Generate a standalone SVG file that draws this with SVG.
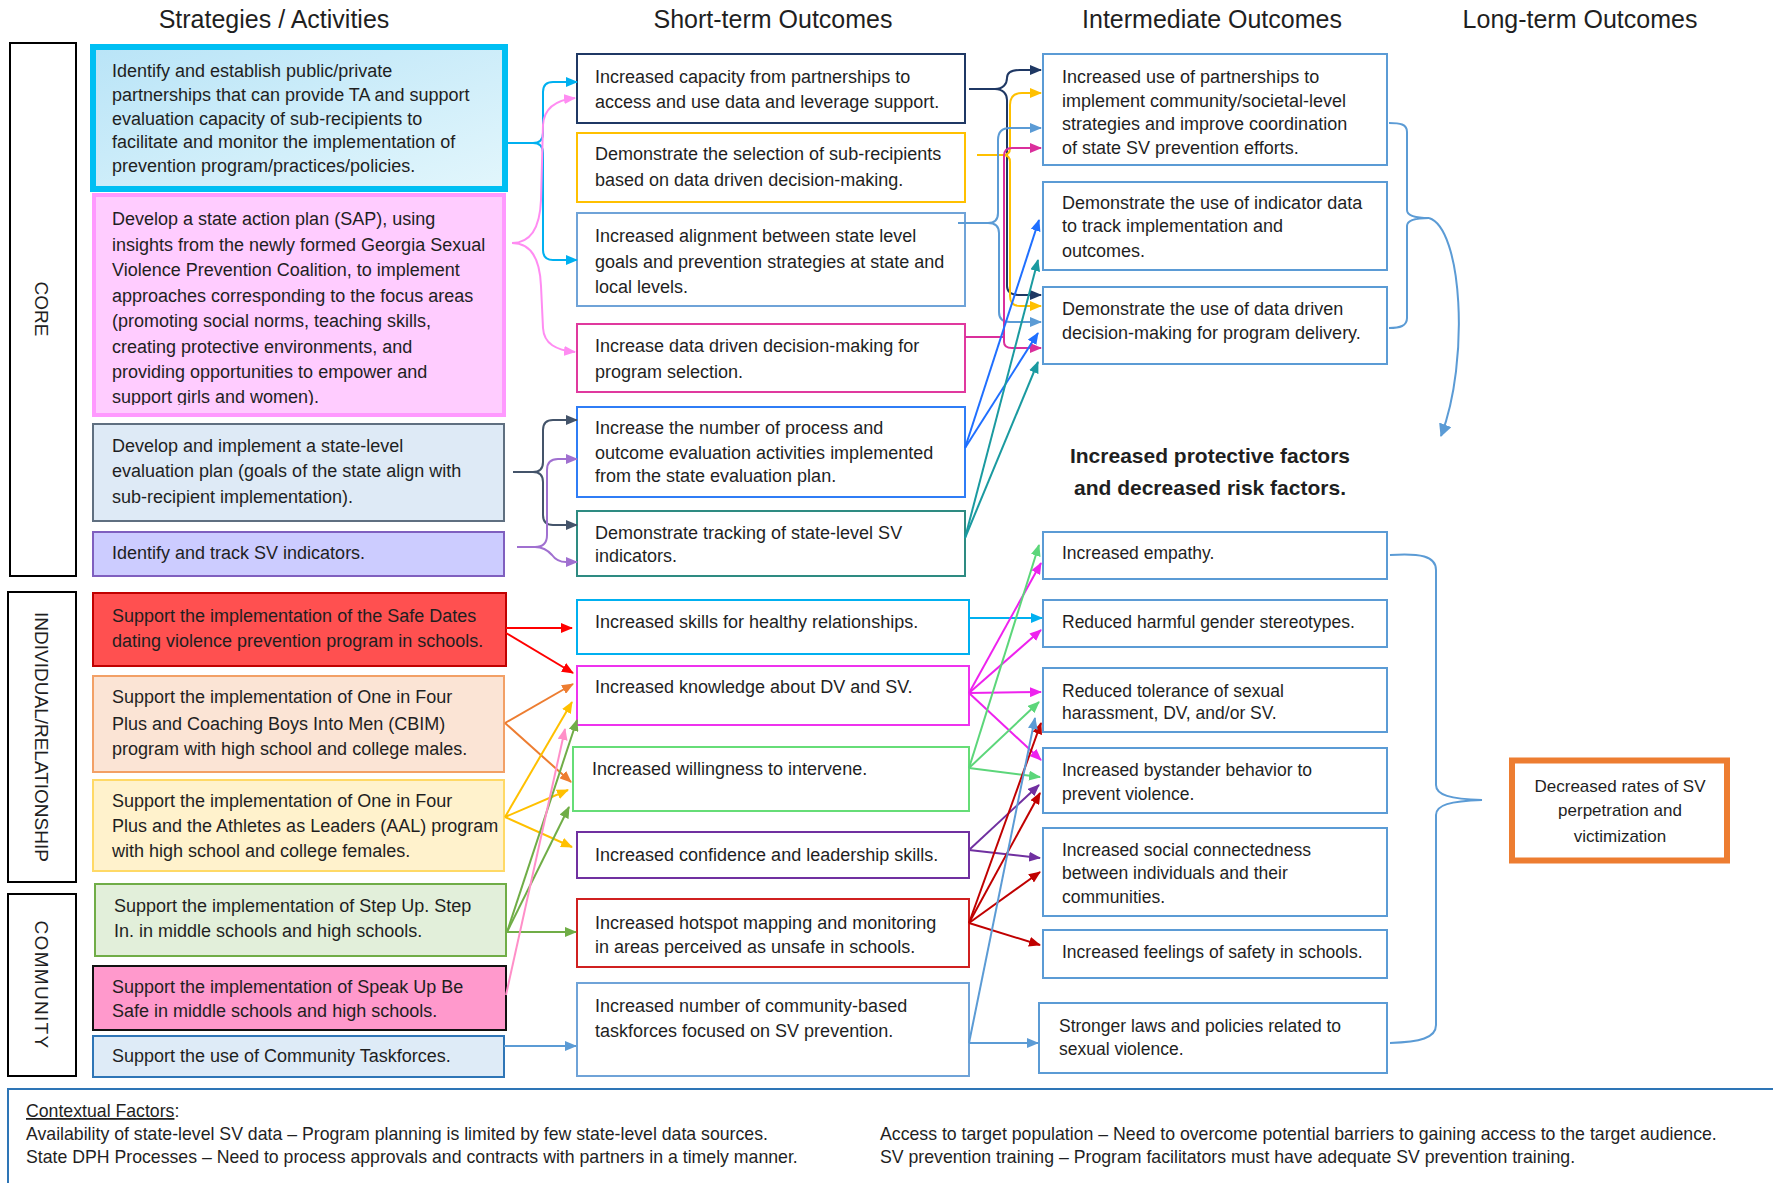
<svg xmlns="http://www.w3.org/2000/svg" width="1773" height="1183" viewBox="0 0 1773 1183">
<defs>
<style>
text{font-family:"Liberation Sans",Arial,sans-serif;fill:#1f1f1f}
.h{font-size:25px}
.b{font-size:18px}
.m{font-size:17.5px}
.v{font-size:19px}
.ctx{font-size:17.7px}
.lab{fill:#fff;stroke:#000;stroke-width:2}
.c{fill:none;stroke-width:2}
.ib{fill:#fff;stroke:#5B9BD5;stroke-width:2}
.sb{fill:#fff;stroke-width:2}
.st{stroke-width:2}
</style>
<linearGradient id="g1" x1="0" y1="0" x2="1" y2="1">
<stop offset="0" stop-color="#B9E4F7"/><stop offset="1" stop-color="#E2F6FC"/>
</linearGradient>
<clipPath id="clip2"><rect x="90" y="190" width="420" height="215"/></clipPath>
<marker id="a-cy" viewBox="0 0 12 10" refX="11" refY="5" markerWidth="12" markerHeight="10" markerUnits="userSpaceOnUse" orient="auto"><path d="M0,0L12,5L0,10z" fill="#00B0F0"/></marker>
<marker id="a-pl" viewBox="0 0 12 10" refX="11" refY="5" markerWidth="12" markerHeight="10" markerUnits="userSpaceOnUse" orient="auto"><path d="M0,0L12,5L0,10z" fill="#FF8CF2"/></marker>
<marker id="a-sl" viewBox="0 0 12 10" refX="11" refY="5" markerWidth="12" markerHeight="10" markerUnits="userSpaceOnUse" orient="auto"><path d="M0,0L12,5L0,10z" fill="#44546A"/></marker>
<marker id="a-pu" viewBox="0 0 12 10" refX="11" refY="5" markerWidth="12" markerHeight="10" markerUnits="userSpaceOnUse" orient="auto"><path d="M0,0L12,5L0,10z" fill="#A070D0"/></marker>
<marker id="a-rd" viewBox="0 0 12 10" refX="11" refY="5" markerWidth="12" markerHeight="10" markerUnits="userSpaceOnUse" orient="auto"><path d="M0,0L12,5L0,10z" fill="#FF0000"/></marker>
<marker id="a-or" viewBox="0 0 12 10" refX="11" refY="5" markerWidth="12" markerHeight="10" markerUnits="userSpaceOnUse" orient="auto"><path d="M0,0L12,5L0,10z" fill="#ED7D31"/></marker>
<marker id="a-go" viewBox="0 0 12 10" refX="11" refY="5" markerWidth="12" markerHeight="10" markerUnits="userSpaceOnUse" orient="auto"><path d="M0,0L12,5L0,10z" fill="#FFC000"/></marker>
<marker id="a-gr" viewBox="0 0 12 10" refX="11" refY="5" markerWidth="12" markerHeight="10" markerUnits="userSpaceOnUse" orient="auto"><path d="M0,0L12,5L0,10z" fill="#70AD47"/></marker>
<marker id="a-pk" viewBox="0 0 12 10" refX="11" refY="5" markerWidth="12" markerHeight="10" markerUnits="userSpaceOnUse" orient="auto"><path d="M0,0L12,5L0,10z" fill="#FF8FC8"/></marker>
<marker id="a-lb" viewBox="0 0 12 10" refX="11" refY="5" markerWidth="12" markerHeight="10" markerUnits="userSpaceOnUse" orient="auto"><path d="M0,0L12,5L0,10z" fill="#5B9BD5"/></marker>
<marker id="a-nv" viewBox="0 0 12 10" refX="11" refY="5" markerWidth="12" markerHeight="10" markerUnits="userSpaceOnUse" orient="auto"><path d="M0,0L12,5L0,10z" fill="#1F3864"/></marker>
<marker id="a-ms" viewBox="0 0 12 10" refX="11" refY="5" markerWidth="12" markerHeight="10" markerUnits="userSpaceOnUse" orient="auto"><path d="M0,0L12,5L0,10z" fill="#DA2F9C"/></marker>
<marker id="a-bb" viewBox="0 0 12 10" refX="11" refY="5" markerWidth="12" markerHeight="10" markerUnits="userSpaceOnUse" orient="auto"><path d="M0,0L12,5L0,10z" fill="#1F6FFF"/></marker>
<marker id="a-tl" viewBox="0 0 12 10" refX="11" refY="5" markerWidth="12" markerHeight="10" markerUnits="userSpaceOnUse" orient="auto"><path d="M0,0L12,5L0,10z" fill="#1A9AA0"/></marker>
<marker id="a-mg" viewBox="0 0 12 10" refX="11" refY="5" markerWidth="12" markerHeight="10" markerUnits="userSpaceOnUse" orient="auto"><path d="M0,0L12,5L0,10z" fill="#EE22EE"/></marker>
<marker id="a-lg" viewBox="0 0 12 10" refX="11" refY="5" markerWidth="12" markerHeight="10" markerUnits="userSpaceOnUse" orient="auto"><path d="M0,0L12,5L0,10z" fill="#5CD67A"/></marker>
<marker id="a-pp" viewBox="0 0 12 10" refX="11" refY="5" markerWidth="12" markerHeight="10" markerUnits="userSpaceOnUse" orient="auto"><path d="M0,0L12,5L0,10z" fill="#7030A0"/></marker>
<marker id="a-dr" viewBox="0 0 12 10" refX="11" refY="5" markerWidth="12" markerHeight="10" markerUnits="userSpaceOnUse" orient="auto"><path d="M0,0L12,5L0,10z" fill="#C00000"/></marker>
<marker id="a-big" viewBox="0 0 12 12" refX="11" refY="6" markerWidth="13" markerHeight="13" markerUnits="userSpaceOnUse" orient="auto"><path d="M0,0L12,6L0,12z" fill="#5B9BD5"/></marker>
</defs>
<rect width="1773" height="1183" fill="#fff"/>

<g id="headers">
<text class="h" x="274" y="28" text-anchor="middle">Strategies / Activities</text>
<text class="h" x="773" y="28" text-anchor="middle">Short-term Outcomes</text>
<text class="h" x="1212" y="28" text-anchor="middle">Intermediate Outcomes</text>
<text class="h" x="1580" y="28" text-anchor="middle">Long-term Outcomes</text>
</g>

<g id="label-core"><rect class="lab" x="10" y="43" width="66" height="533"/><text class="v" transform="translate(42,309) rotate(90)" text-anchor="middle" dy="0.35em">CORE</text></g>
<g id="label-individual"><rect class="lab" x="8" y="592" width="68" height="290"/><text class="v" font-size="20.5" transform="translate(42,737) rotate(90)" text-anchor="middle" dy="0.35em">INDIVIDUAL/RELATIONSHIP</text></g>
<g id="label-community"><rect class="lab" x="8" y="894" width="68" height="182"/><text class="v" font-size="20" transform="translate(42,985) rotate(90)" text-anchor="middle" dy="0.35em" letter-spacing="1.3">COMMUNITY</text></g>

<!-- Strategies -->
<g id="st-partnerships"><rect x="93" y="47" width="412" height="142" fill="url(#g1)" stroke="#00BFF3" stroke-width="6"/>
<text class="b"><tspan x="112" y="77">Identify and establish public/private</tspan><tspan x="112" y="101">partnerships that can provide TA and support</tspan><tspan x="112" y="125">evaluation capacity of sub-recipients to</tspan><tspan x="112" y="148">facilitate and monitor the implementation of</tspan><tspan x="112" y="172">prevention program/practices/policies.</tspan></text></g>
<g id="st-sap"><rect x="94" y="195" width="410" height="220" fill="#FFCCFF" stroke="#FF99FF" stroke-width="4"/>
<text class="b" clip-path="url(#clip2)"><tspan x="112" y="225">Develop a state action plan (SAP), using</tspan><tspan x="112" y="251">insights from the newly formed Georgia Sexual</tspan><tspan x="112" y="276">Violence Prevention Coalition, to implement</tspan><tspan x="112" y="302">approaches corresponding to the focus areas</tspan><tspan x="112" y="327">(promoting social norms, teaching skills,</tspan><tspan x="112" y="353">creating protective environments, and</tspan><tspan x="112" y="378">providing opportunities to empower and</tspan><tspan x="112" y="403">support girls and women).</tspan></text></g>
<g id="st-evalplan"><rect class="st" x="93" y="424" width="411" height="97" fill="#DEEAF6" stroke="#5F6F80"/>
<text class="b"><tspan x="112" y="452">Develop and implement a state-level</tspan><tspan x="112" y="477">evaluation plan (goals of the state align with</tspan><tspan x="112" y="503">sub-recipient implementation).</tspan></text></g>
<g id="st-indicators"><rect class="st" x="93" y="532" width="411" height="44" fill="#CCCCFF" stroke="#7F5FBF"/>
<text class="b" x="112" y="559">Identify and track SV indicators.</text></g>
<g id="st-safedates"><rect class="st" x="93" y="593" width="413" height="73" fill="#FF5050" stroke="#C00000"/>
<text class="b"><tspan x="112" y="622">Support the implementation of the Safe Dates</tspan><tspan x="112" y="647">dating violence prevention program in schools.</tspan></text></g>
<g id="st-cbim"><rect class="st" x="93" y="676" width="411" height="96" fill="#FBE4D5" stroke="#F2A066"/>
<text class="b"><tspan x="112" y="703">Support the implementation of One in Four</tspan><tspan x="112" y="730">Plus and Coaching Boys Into Men (CBIM)</tspan><tspan x="112" y="755">program with high school and college males.</tspan></text></g>
<g id="st-aal"><rect class="st" x="93" y="780" width="411" height="91" fill="#FFF2CC" stroke="#FFD966"/>
<text class="b"><tspan x="112" y="807">Support the implementation of One in Four</tspan><tspan x="112" y="832">Plus and the Athletes as Leaders (AAL) program</tspan><tspan x="112" y="857">with high school and college females.</tspan></text></g>
<g id="st-stepup"><rect class="st" x="95" y="884" width="411" height="72" fill="#E2EFDA" stroke="#70AD47"/>
<text class="b"><tspan x="114" y="912">Support the implementation of Step Up. Step</tspan><tspan x="114" y="937">In. in middle schools and high schools.</tspan></text></g>
<g id="st-speakup"><rect class="st" x="93" y="966" width="413" height="64" fill="#FF99CC" stroke="#111"/>
<text class="b"><tspan x="112" y="993">Support the implementation of Speak Up Be</tspan><tspan x="112" y="1017">Safe in middle schools and high schools.</tspan></text></g>
<g id="st-taskforces"><rect class="st" x="93" y="1036" width="411" height="41" fill="#DEEBF7" stroke="#2E75B6"/>
<text class="b" x="112" y="1062">Support the use of Community Taskforces.</text></g>

<!-- Short-term -->
<g id="s1"><rect class="sb" x="577" y="54" width="388" height="69" stroke="#1F3864"/><text class="b"><tspan x="595" y="83">Increased capacity from partnerships to</tspan><tspan x="595" y="108">access and use data and leverage support.</tspan></text></g>
<g id="s2"><rect class="sb" x="577" y="133" width="388" height="69" stroke="#FFC000"/><text class="b"><tspan x="595" y="160">Demonstrate the selection of sub-recipients</tspan><tspan x="595" y="186">based on data driven decision-making.</tspan></text></g>
<g id="s3"><rect class="sb" x="577" y="213" width="388" height="93" stroke="#6FA3D8"/><text class="b"><tspan x="595" y="242">Increased alignment between state level</tspan><tspan x="595" y="268">goals and prevention strategies at state and</tspan><tspan x="595" y="293">local levels.</tspan></text></g>
<g id="s4"><rect class="sb" x="577" y="324" width="388" height="68" stroke="#E0399E"/><text class="b"><tspan x="595" y="352">Increase data driven decision-making for</tspan><tspan x="595" y="378">program selection.</tspan></text></g>
<g id="s5"><rect class="sb" x="577" y="407" width="388" height="90" stroke="#2F7DF6"/><text class="b"><tspan x="595" y="434">Increase the number of process and</tspan><tspan x="595" y="459">outcome evaluation activities implemented</tspan><tspan x="595" y="482">from the state evaluation plan.</tspan></text></g>
<g id="s6"><rect class="sb" x="577" y="511" width="388" height="65" stroke="#2E8B82"/><text class="b"><tspan x="595" y="539">Demonstrate tracking of state-level SV</tspan><tspan x="595" y="562">indicators.</tspan></text></g>
<g id="s7"><rect class="sb" x="577" y="600" width="392" height="54" stroke="#00B0F0"/><text class="b" x="595" y="628">Increased skills for healthy relationships.</text></g>
<g id="s8"><rect class="sb" x="577" y="666" width="392" height="59" stroke="#EE33EE"/><text class="b" x="595" y="693">Increased knowledge about DV and SV.</text></g>
<g id="s9"><rect class="sb" x="573" y="747" width="396" height="64" stroke="#66DD77"/><text class="b" x="592" y="775">Increased willingness to intervene.</text></g>
<g id="s10"><rect class="sb" x="577" y="832" width="392" height="46" stroke="#7030A0"/><text class="b" x="595" y="861">Increased confidence and leadership skills.</text></g>
<g id="s11"><rect class="sb" x="577" y="899" width="392" height="68" stroke="#D02020"/><text class="b"><tspan x="595" y="929">Increased hotspot mapping and monitoring</tspan><tspan x="595" y="953">in areas perceived as unsafe in schools.</tspan></text></g>
<g id="s12"><rect class="sb" x="577" y="983" width="392" height="93" stroke="#6FA3D8"/><text class="b"><tspan x="595" y="1012">Increased number of community-based</tspan><tspan x="595" y="1037">taskforces focused on SV prevention.</tspan></text></g>

<!-- Intermediate -->
<g id="i1"><rect class="ib" x="1043" y="54" width="344" height="111"/><text class="b"><tspan x="1062" y="83">Increased use of partnerships to</tspan><tspan x="1062" y="107">implement community/societal-level</tspan><tspan x="1062" y="130">strategies and improve coordination</tspan><tspan x="1062" y="154">of state SV prevention efforts.</tspan></text></g>
<g id="i2"><rect class="ib" x="1043" y="182" width="344" height="88"/><text class="b"><tspan x="1062" y="209">Demonstrate the use of indicator data</tspan><tspan x="1062" y="232">to track implementation and</tspan><tspan x="1062" y="257">outcomes.</tspan></text></g>
<g id="i3"><rect class="ib" x="1043" y="287" width="344" height="77"/><text class="b"><tspan x="1062" y="315">Demonstrate the use of data driven</tspan><tspan x="1062" y="339">decision-making for program delivery.</tspan></text></g>

<g id="protective-title"><text font-size="21" font-weight="bold" text-anchor="middle"><tspan x="1210" y="463">Increased protective factors</tspan><tspan x="1210" y="495">and decreased risk factors.</tspan></text></g>

<g id="l1"><rect class="ib" x="1043" y="532" width="344" height="47"/><text class="m" x="1062" y="559">Increased empathy.</text></g>
<g id="l2"><rect class="ib" x="1043" y="600" width="344" height="47"/><text class="m" x="1062" y="628">Reduced harmful gender stereotypes.</text></g>
<g id="l3"><rect class="ib" x="1043" y="668" width="344" height="64"/><text class="m"><tspan x="1062" y="697">Reduced tolerance of sexual</tspan><tspan x="1062" y="719">harassment, DV, and/or SV.</tspan></text></g>
<g id="l4"><rect class="ib" x="1043" y="748" width="344" height="65"/><text class="m"><tspan x="1062" y="776">Increased bystander behavior to</tspan><tspan x="1062" y="800">prevent violence.</tspan></text></g>
<g id="l5"><rect class="ib" x="1043" y="828" width="344" height="88"/><text class="m"><tspan x="1062" y="856">Increased social connectedness</tspan><tspan x="1062" y="879">between individuals and their</tspan><tspan x="1062" y="903">communities.</tspan></text></g>
<g id="l6"><rect class="ib" x="1043" y="930" width="344" height="48"/><text class="m" x="1062" y="958">Increased feelings of safety in schools.</text></g>
<g id="l7"><rect class="ib" x="1039" y="1003" width="348" height="70"/><text class="m"><tspan x="1059" y="1032">Stronger laws and policies related to</tspan><tspan x="1059" y="1055">sexual violence.</tspan></text></g>

<g id="longterm"><rect x="1512" y="760.5" width="215" height="100" fill="#fff" stroke="#ED7D31" stroke-width="6"/>
<text font-size="17" text-anchor="middle"><tspan x="1620" y="792">Decreased rates of SV</tspan><tspan x="1620" y="816">perpetration and</tspan><tspan x="1620" y="842">victimization</tspan></text></g>

<g id="contextual"><rect x="8" y="1089" width="1800" height="160" fill="none" stroke="#2E75B6" stroke-width="2"/>
<text class="ctx"><tspan x="26" y="1117" text-decoration="underline">Contextual Factors</tspan><tspan>:</tspan></text>
<text class="ctx" x="26" y="1140">Availability of state-level SV data – Program planning is limited by few state-level data sources.</text>
<text class="ctx" x="26" y="1163">State DPH Processes – Need to process approvals and contracts with partners in a timely manner.</text>
<text class="ctx" x="880" y="1140">Access to target population – Need to overcome potential barriers to gaining access to the target audience.</text>
<text class="ctx" x="880" y="1163">SV prevention training – Program facilitators must have adequate SV prevention training.</text>
</g>

<g id="connectors">
<!-- strategies to short-term -->
<path class="c" stroke="#00B0F0" marker-end="url(#a-cy)" d="M508,143 H533 Q543,143 543,133 V92 Q543,82 553,82 H577"/>
<path class="c" stroke="#00B0F0" marker-end="url(#a-cy)" d="M533,143 Q543,143 543,153 V250 Q543,260 553,260 H577"/>
<path class="c" stroke="#FF8CF2" marker-end="url(#a-pl)" d="M512,243 C532,243 540,225 541,200 L543,125 C544,108 556,100 575,98"/>
<path class="c" stroke="#FF8CF2" marker-end="url(#a-pl)" d="M512,243 C532,243 540,261 541,286 L543,328 C544,344 556,350 575,352"/>
<path class="c" stroke="#44546A" marker-end="url(#a-sl)" d="M513,472 H533 Q543,472 543,462 V430 Q543,420 553,420 H577"/>
<path class="c" stroke="#44546A" marker-end="url(#a-sl)" d="M533,472 Q543,472 543,482 V515 Q543,525 553,525 H577"/>
<path class="c" stroke="#A070D0" marker-end="url(#a-pu)" d="M517,547 H535 Q547,547 547,535 V470 Q547,459 558,459 H577"/>
<path class="c" stroke="#A070D0" marker-end="url(#a-pu)" d="M535,547 Q545,547 552,555 Q557,562 566,562 H577"/>
<path class="c" stroke="#FF0000" marker-end="url(#a-rd)" d="M506,628 H572"/>
<path class="c" stroke="#FF0000" marker-end="url(#a-rd)" d="M506,633 L573,673"/>
<path class="c" stroke="#ED7D31" marker-end="url(#a-or)" d="M505,723 L573,684"/>
<path class="c" stroke="#ED7D31" marker-end="url(#a-or)" d="M505,723 L571,782"/>
<path class="c" stroke="#FFC000" marker-end="url(#a-go)" d="M505,817 L572,702"/>
<path class="c" stroke="#FFC000" marker-end="url(#a-go)" d="M505,817 L568,790"/>
<path class="c" stroke="#FFC000" marker-end="url(#a-go)" d="M505,817 L572,847"/>
<path class="c" stroke="#70AD47" marker-end="url(#a-gr)" d="M507,932 L577,720"/>
<path class="c" stroke="#70AD47" marker-end="url(#a-gr)" d="M507,932 L569,807"/>
<path class="c" stroke="#70AD47" marker-end="url(#a-gr)" d="M507,932 H576"/>
<path class="c" stroke="#FF8FC8" stroke-width="1.4" marker-end="url(#a-pk)" d="M506,995 L565,729"/>
<path class="c" stroke="#5B9BD5" marker-end="url(#a-lb)" d="M504,1046 H576"/>
<!-- short-term to intermediate (upper) -->
<path class="c" stroke="#1F3864" marker-end="url(#a-nv)" d="M969,89 H995 C1003,89 1007,84 1007,78 C1007,72 1012,70 1020,70 H1041"/>
<path class="c" stroke="#1F3864" marker-end="url(#a-nv)" d="M995,89 C1003,89 1007,94 1007,100 V286 C1007,292 1012,295 1020,295 H1041"/>
<path class="c" stroke="#FFC000" marker-end="url(#a-go)" d="M977,155 H1003 Q1010,155 1010,148 V105 Q1010,93 1022,93 H1041"/>
<path class="c" stroke="#FFC000" marker-end="url(#a-go)" d="M1003,155 Q1010,155 1010,162 V296 Q1010,306 1020,306 H1041"/>
<path class="c" stroke="#5B9BD5" marker-end="url(#a-lb)" d="M958,223 H988 Q998,223 998,213 V140 Q998,128 1010,128 H1041"/>
<path class="c" stroke="#5B9BD5" marker-end="url(#a-lb)" d="M988,223 Q999,223 999,233 V312 Q999,322 1010,322 H1041"/>
<path class="c" stroke="#DA2F9C" marker-end="url(#a-ms)" d="M965,337 H1004 V156 Q1004,148 1012,148 H1041"/>
<path class="c" stroke="#DA2F9C" marker-end="url(#a-ms)" d="M1004,337 V342 Q1004,348 1012,348 H1041"/>
<path class="c" stroke="#1F6FFF" marker-end="url(#a-bb)" d="M965,448 L1039,220"/>
<path class="c" stroke="#1F6FFF" marker-end="url(#a-bb)" d="M965,448 L1038,333"/>
<path class="c" stroke="#1A9AA0" marker-end="url(#a-tl)" d="M965,538 L1038,260"/>
<path class="c" stroke="#1A9AA0" marker-end="url(#a-tl)" d="M965,538 L1038,362"/>
<!-- short-term to intermediate (lower) -->
<path class="c" stroke="#00B0F0" marker-end="url(#a-cy)" d="M969,618 H1042"/>
<path class="c" stroke="#EE22EE" marker-end="url(#a-mg)" d="M969,693 L1041,563"/>
<path class="c" stroke="#EE22EE" marker-end="url(#a-mg)" d="M969,693 L1041,630"/>
<path class="c" stroke="#EE22EE" marker-end="url(#a-mg)" d="M969,693 L1041,692"/>
<path class="c" stroke="#EE22EE" marker-end="url(#a-mg)" d="M969,693 L1041,760"/>
<path class="c" stroke="#5CD67A" marker-end="url(#a-lg)" d="M969,768 L1039,545"/>
<path class="c" stroke="#5CD67A" marker-end="url(#a-lg)" d="M969,768 L1039,702"/>
<path class="c" stroke="#5CD67A" marker-end="url(#a-lg)" d="M969,768 L1040,777"/>
<path class="c" stroke="#7030A0" marker-end="url(#a-pp)" d="M969,850 L1039,785"/>
<path class="c" stroke="#7030A0" marker-end="url(#a-pp)" d="M969,850 L1040,858"/>
<path class="c" stroke="#C00000" marker-end="url(#a-dr)" d="M969,923 L1041,723"/>
<path class="c" stroke="#C00000" marker-end="url(#a-dr)" d="M969,923 L1040,793"/>
<path class="c" stroke="#C00000" marker-end="url(#a-dr)" d="M969,923 L1040,872"/>
<path class="c" stroke="#C00000" marker-end="url(#a-dr)" d="M969,923 L1040,945"/>
<path class="c" stroke="#5B9BD5" marker-end="url(#a-lb)" d="M969,1043 H1038"/>
<path class="c" stroke="#5B9BD5" stroke-width="1.4" marker-end="url(#a-lb)" d="M969,1043 L1035,718"/>
<!-- brackets -->
<path class="c" stroke="#5B9BD5" stroke-width="1.6" d="M1389,123 C1400,123 1407,124 1407,132 L1407,210 C1407,216 1415,218 1429,218 C1415,218 1407,220 1407,226 L1407,318 C1407,326 1400,328 1389,328"/>
<path class="c" stroke="#5B9BD5" stroke-width="1.6" marker-end="url(#a-big)" d="M1429,218 C1462,228 1470,360 1441,436"/>
<path class="c" stroke="#5B9BD5" stroke-width="5.5" d="M1390,555 C1420,553 1436,556 1436,570 L1436,785 C1436,795 1450,799 1482,800 C1450,801 1436,805 1436,815 L1436,1025 C1436,1038 1420,1042 1390,1043"/>
</g>
</svg>
